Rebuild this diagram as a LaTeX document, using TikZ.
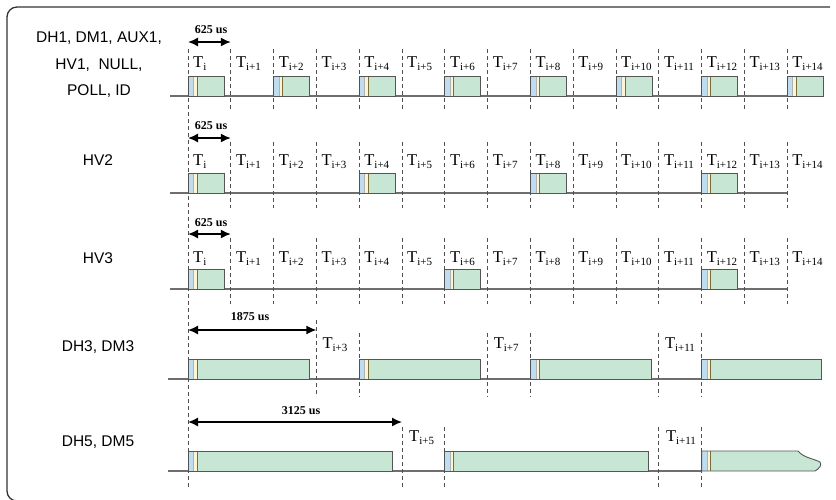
\documentclass[tikz,border=0pt]{standalone}
\usepackage{fontspec}
\setmainfont{Liberation Serif}
\newfontfamily\labfont{Liberation Sans}
\usetikzlibrary{arrows.meta}
\definecolor{pgreen}{RGB}{200,230,212}
\definecolor{pblue}{RGB}{190,221,240}
\definecolor{pcream}{RGB}{252,244,212}
\definecolor{pedge}{RGB}{85,85,85}
\definecolor{olivec}{RGB}{120,110,60}
\definecolor{framec}{RGB}{50,50,50}
\definecolor{basec}{RGB}{110,110,110}
\definecolor{dashc}{RGB}{80,80,80}
\newcommand\Tsub[1]{\fontsize{16.5}{18}\selectfont T\raisebox{-3.5pt}{\fontsize{11}{12}\selectfont #1}}
\newcommand\pkt[3]{%
  \fill[pgreen] ({#1},{#2-20}) rectangle ({#1+#3},{#2});
  \fill[pblue] ({#1},{#2-20}) rectangle ({#1+5.5},{#2});
  \fill[pcream] ({#1+5.5},{#2-20}) rectangle ({#1+9},{#2});
  \draw[sepline] ({#1+5.5},{#2-20}) -- ({#1+5.5},{#2});
  \draw[oliveline] ({#1+9},{#2-20}) -- ({#1+9},{#2});
  \draw[pktline] ({#1},{#2-20}) rectangle ({#1+#3},{#2});
}
\tikzset{
  sepline/.style={draw=gray!60, line width=0.5pt},
  oliveline/.style={draw=olivec, line width=0.7pt},
  pktline/.style={draw=pedge, line width=0.9pt},
  baseline/.style={draw=basec, line width=1.1pt},
  slotdash/.style={draw=dashc, line width=0.8pt, dash pattern=on 4pt off 3pt},
  dimarrow/.style={draw=black, line width=1.5pt, {Latex[length=10pt,width=9pt]}-{Latex[length=10pt,width=9pt]}},
  dimlab/.style={font=\fontsize{12}{14}\selectfont\bfseries, inner sep=0pt},
  rowlab/.style={font=\labfont\fontsize{15.5}{18}\selectfont, inner sep=0pt},
  tlab/.style={inner sep=0pt, anchor=base west},
}
\begin{document}
\begin{tikzpicture}[x=1pt,y=-1pt]
\useasboundingbox (0,0) rectangle (836,499);
% frame
\draw[framec, line width=1.3pt, rounded corners=10pt] (830,7) -- (7,7) -- (7,501) -- (40,501);

% row labels
\node[rowlab] (r1a) at (99,38) {DH1, DM1, AUX1,};
\node[rowlab] (r1b) at (99,65) {HV1,\ \ NULL,};
\node[rowlab] (r1c) at (99,91.5) {POLL, ID};
\node[rowlab] (r2) at (98,160) {HV2};
\node[rowlab] (r3) at (98,258) {HV3};
\node[rowlab] (r4) at (98,347) {DH3, DM3};
\node[rowlab] (r5) at (98,442) {DH5, DM5};

% baselines
\draw[baseline] (170,96) -- (787,96);
\draw[baseline] (170,193) -- (787,193);
\draw[baseline] (170,289) -- (787,289);
\draw[baseline] (168,379) -- (702,379);
\draw[baseline] (168,471) -- (702,471);

% packets rows 1-3
\foreach \k in {0,2,...,14} { \pgfmathsetmacro{\xx}{188+42.8*\k} \pkt{\xx}{96}{36} }
\foreach \k in {0,4,8,12} { \pgfmathsetmacro{\xx}{188+42.8*\k} \pkt{\xx}{193}{36} }
\foreach \k in {0,6,12} { \pgfmathsetmacro{\xx}{188+42.8*\k} \pkt{\xx}{289}{36} }
% row 4
\foreach \k in {0,4,8} { \pgfmathsetmacro{\xx}{188+42.8*\k} \pkt{\xx}{379}{121} }
\pkt{701.6}{379}{119.4}
% row 5
\foreach \k in {0,6} { \pgfmathsetmacro{\xx}{188+42.8*\k} \pkt{\xx}{471}{204} }
% last wavy packet
\fill[pgreen] (701.6,451) -- (798,451) .. controls (804,458) and (812,458) .. (820,462) .. controls (822,465) and (820,468) .. (815,471) -- (701.6,471) -- cycle;
\fill[pblue] (701.6,451) rectangle (707.1,471);
\fill[pcream] (707.1,451) rectangle (710.6,471);
\draw[sepline] (707.1,451) -- (707.1,471);
\draw[oliveline] (710.6,451) -- (710.6,471);
\draw[pktline] (701.6,471) -- (701.6,451) -- (798,451) .. controls (804,458) and (812,458) .. (820,462) .. controls (822,465) and (820,468) .. (815,471) -- cycle;

% dashed slot lines
\draw[slotdash] (188,49) -- (188,488);
\foreach \k in {1,...,14} {
  \pgfmathsetmacro{\xx}{188+42.8*\k}
  \draw[slotdash] (\xx,49) -- (\xx,111);
  \draw[slotdash] (\xx,142) -- (\xx,208);
  \draw[slotdash] (\xx,238) -- (\xx,304);
}
\foreach \k/\top in {3/320,4/333,7/333,8/333,11/333,12/333} {
  \pgfmathsetmacro{\xx}{188+42.8*\k}
  \draw[slotdash] (\xx,\top) -- (\xx,397);
}
\foreach \k in {5,6,11,12} {
  \pgfmathsetmacro{\xx}{188+42.8*\k}
  \draw[slotdash] (\xx,427) -- (\xx,488);
}

% slot labels rows 1-3
\foreach \row/\yy in {1/67, 2/165, 3/262} {
  \foreach \k in {0,...,14} {
    \pgfmathsetmacro{\xx}{188+42.8*\k+5}
    \ifnum\k=0
      \node[tlab] (t\row-\k) at (\xx,\yy) {\Tsub{i}};
    \else
      \node[tlab] (t\row-\k) at (\xx,\yy) {\Tsub{i+\k}};
    \fi
  }
}
\foreach \k in {3,7,11} {
  \pgfmathsetmacro{\xx}{188+42.8*\k+6}
  \node[tlab] (t4-\k) at (\xx,348) {\Tsub{i+\k}};
}
\foreach \k in {5,11} {
  \pgfmathsetmacro{\xx}{188+42.8*\k+7}
  \node[tlab] (t5-\k) at (\xx,441) {\Tsub{i+\k}};
}

% dimension arrows
\coordinate (a1s) at (188,42);  \coordinate (a1e) at (230.8,42);
\coordinate (a2s) at (188,138); \coordinate (a2e) at (230.8,138);
\coordinate (a3s) at (188,234); \coordinate (a3e) at (230.8,234);
\coordinate (a4s) at (188,330); \coordinate (a4e) at (316.4,330);
\coordinate (a5s) at (188,422); \coordinate (a5e) at (402,422);
\draw[dimarrow] (a1s) -- (a1e);
\draw[dimarrow] (a2s) -- (a2e);
\draw[dimarrow] (a3s) -- (a3e);
\draw[dimarrow] (a4s) -- (a4e);
\draw[dimarrow] (a5s) -- (a5e);
\node[dimlab] (d1) at (211,30) {625 us};
\node[dimlab] (d2) at (211,126) {625 us};
\node[dimlab] (d3) at (211,222.5) {625 us};
\node[dimlab] (d4) at (250,317) {1875 us};
\node[dimlab] (d5) at (301,411) {3125 us};
\end{tikzpicture}
\end{document}
